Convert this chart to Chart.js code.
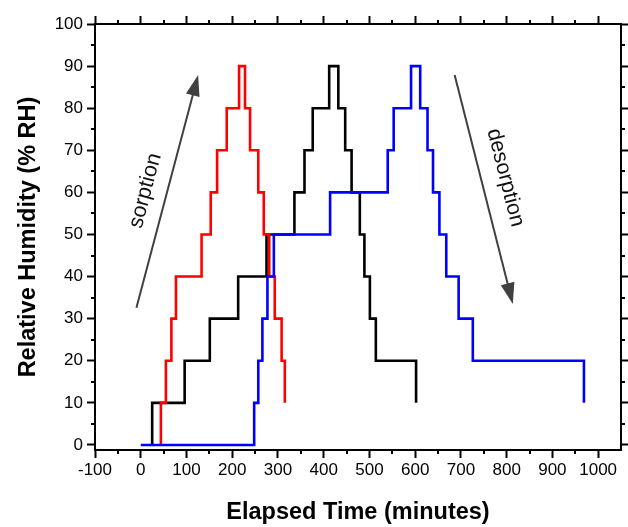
<!DOCTYPE html>
<html><head><meta charset="utf-8">
<script src="https://cdn.jsdelivr.net/npm/chart.js@4.4.0/dist/chart.umd.min.js"></script>
<style>html,body{margin:0;padding:0;background:#fff;} #wrap{width:628px;height:527px;position:relative;}</style>
</head><body><div id="wrap"><canvas id="c"></canvas></div>
<script>
// Step series: time (minutes) at which RH switches to the given level
const blueTimes  = [0, 248, 257, 266, 277, 291, 414, 540, 553, 591, 611, 627, 639, 653, 668, 695, 726, 969];
const blueRH     = [0, 10, 20, 30, 40, 50, 60, 70, 80, 90, 80, 70, 60, 50, 40, 30, 20, 10];
const redTimes   = [44, 44, 55, 67, 77, 133, 153, 167, 188, 215, 228, 239, 257, 269, 281, 293, 308, 315];
const redRH      = [0, 10, 20, 30, 40, 50, 60, 70, 80, 90, 80, 70, 60, 50, 40, 30, 20, 10];
const blackTimes = [25, 25, 96, 151, 213, 275, 336, 358, 376, 412, 432, 447, 461, 479, 489, 501, 514, 602];
const blackRH    = [0, 10, 20, 30, 40, 50, 60, 70, 80, 90, 80, 70, 60, 50, 40, 30, 20, 10];

const xTicks = [-100, 0, 100, 200, 300, 400, 500, 600, 700, 800, 900, 1000];
const yTicks = [0, 10, 20, 30, 40, 50, 60, 70, 80, 90, 100];

// annotations (data coordinates)
const sorptionArrow   = {from: [-9.4, 32.6], to: [125.5, 87.9], label: 'sorption',   at: [10.3, 60.4]};
const desorptionArrow = {from: [686.3, 87.9], to: [813.4, 33.5], label: 'desorption', at: [797, 63.5]};

const FONT = "'Liberation Sans', Arial, Helvetica, sans-serif";

function pts(t, v) { return t.map((x, i) => ({x: x, y: v[i]})); }

const minorAndFrame = {
  id: 'minorAndFrame',
  afterDraw(chart) {
    const ctx = chart.ctx, a = chart.chartArea;
    const xs = chart.scales.x, ys = chart.scales.y;
    ctx.save();
    ctx.strokeStyle = '#000';
    ctx.lineWidth = 2;
    const line = (x1, y1, x2, y2) => { ctx.beginPath(); ctx.moveTo(x1, y1); ctx.lineTo(x2, y2); ctx.stroke(); };
    for (let i = 0; i < xTicks.length; i++) {
      const v = xTicks[i] + 50;
      if (v >= xs.max) continue;
      const p = Math.round(xs.getPixelForValue(v));
      line(p, a.bottom, p, a.bottom + 4);
      line(p, a.top, p, a.top - 4);
    }
    for (let i = 0; i < yTicks.length - 1; i++) {
      const v = yTicks[i] + 5;
      const p = Math.round(ys.getPixelForValue(v));
      line(a.left, p, a.left - 4, p);
      line(a.right, p, a.right + 4, p);
    }
    ctx.strokeRect(a.left, a.top, a.right - a.left, a.bottom - a.top);

    // arrows + labels
    const drawArrow = (ann) => {
      const x1 = xs.getPixelForValue(ann.from[0]), y1 = ys.getPixelForValue(ann.from[1]);
      const x2 = xs.getPixelForValue(ann.to[0]),   y2 = ys.getPixelForValue(ann.to[1]);
      const ang = Math.atan2(y2 - y1, x2 - x1);
      const hl = 21, hw = 7;
      const bx = x2 - hl * Math.cos(ang), by = y2 - hl * Math.sin(ang);
      ctx.strokeStyle = '#404040';
      ctx.fillStyle = '#404040';
      ctx.lineWidth = 2;
      ctx.beginPath(); ctx.moveTo(x1, y1); ctx.lineTo(bx + 2 * Math.cos(ang), by + 2 * Math.sin(ang)); ctx.stroke();
      ctx.beginPath();
      ctx.moveTo(x2, y2);
      ctx.lineTo(bx + hw * Math.sin(ang), by - hw * Math.cos(ang));
      ctx.lineTo(bx - hw * Math.sin(ang), by + hw * Math.cos(ang));
      ctx.closePath(); ctx.fill();
      const tx = xs.getPixelForValue(ann.at[0]), ty = ys.getPixelForValue(ann.at[1]);
      ctx.save();
      ctx.translate(tx, ty);
      ctx.rotate(ang);
      ctx.fillStyle = '#111';
      ctx.font = '21.5px ' + FONT;
      ctx.textAlign = 'center';
      ctx.textBaseline = 'middle';
      ctx.fillText(ann.label, 0, 0);
      ctx.restore();
    };
    drawArrow(sorptionArrow);
    drawArrow(desorptionArrow);
    ctx.restore();
  }
};

const gridOpts = {display: true, drawOnChartArea: false, drawTicks: true, tickLength: 8, tickWidth: 2, tickColor: '#000'};
const borderOpts = {display: true, color: '#000', width: 2};
const plain = v => String(v);

new Chart(document.getElementById('c'), {
  type: 'line',
  data: {
    datasets: [
      {data: pts(blueTimes, blueRH), borderColor: '#0000FF', borderWidth: 2.6, stepped: true, pointRadius: 0, fill: false},
      {data: pts(redTimes, redRH), borderColor: '#FF0000', borderWidth: 2.6, stepped: true, pointRadius: 0, fill: false},
      {data: pts(blackTimes, blackRH), borderColor: '#000000', borderWidth: 2.6, stepped: true, pointRadius: 0, fill: false}
    ]
  },
  options: {
    responsive: true,
    maintainAspectRatio: false,
    animation: false,
    layout: {padding: 0},
    plugins: {legend: {display: false}, tooltip: {enabled: false}},
    scales: {
      x: {
        type: 'linear', position: 'bottom', min: -100, max: 1050,
        afterBuildTicks: s => { s.ticks = xTicks.map(v => ({value: v})); },
        afterFit: s => { s.height = 77; },
        grid: gridOpts, border: borderOpts,
        ticks: {color: '#000', font: {family: FONT, size: 17}, padding: 2, maxRotation: 0, autoSkip: false, callback: plain},
        title: {display: true, text: 'Elapsed Time (minutes)', color: '#000', font: {family: FONT, size: 23.5, weight: 'bold'}, padding: {top: 0, bottom: 0}}
      },
      x2: {
        type: 'linear', position: 'top', min: -100, max: 1050,
        afterBuildTicks: s => { s.ticks = xTicks.map(v => ({value: v})); },
        afterFit: s => { s.height = 24; },
        grid: gridOpts, border: borderOpts,
        ticks: {display: false}
      },
      y: {
        type: 'linear', position: 'left', min: -1.2, max: 100,
        afterBuildTicks: s => { s.ticks = yTicks.map(v => ({value: v})); },
        afterFit: s => { s.width = 95; },
        grid: gridOpts, border: borderOpts,
        ticks: {color: '#000', font: {family: FONT, size: 17}, padding: 4, autoSkip: false, callback: plain},
        title: {display: true, text: 'Relative Humidity (% RH)', color: '#000', font: {family: FONT, size: 23.5, weight: 'bold'}, padding: {top: 14, bottom: 0}}
      },
      y2: {
        type: 'linear', position: 'right', min: -1.2, max: 100,
        afterBuildTicks: s => { s.ticks = yTicks.map(v => ({value: v})); },
        afterFit: s => { s.width = 7; },
        grid: gridOpts, border: borderOpts,
        ticks: {display: false}
      }
    }
  },
  plugins: [minorAndFrame]
});
</script>
</body></html>
